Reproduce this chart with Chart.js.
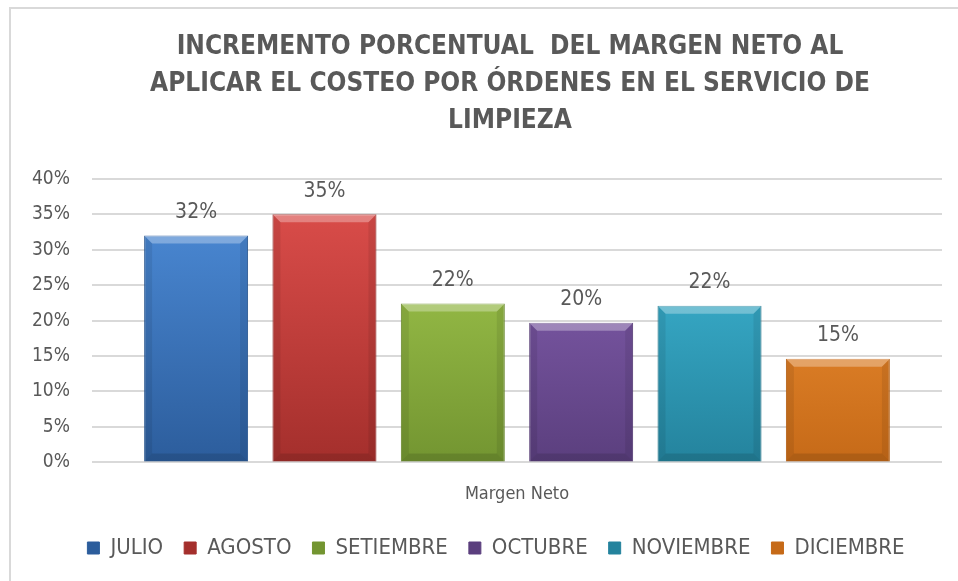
<!DOCTYPE html>
<html>
<head>
<meta charset="utf-8">
<script src="https://cdn.jsdelivr.net/npm/chart.js@4.4.1/dist/chart.umd.min.js"></script>
<style>
  html, body { margin: 0; padding: 0; background: #fff; overflow: hidden; }
  #wrap { position: relative; width: 958px; height: 581px; }
  #frame {
    position: absolute; left: 9px; top: 7px; width: 1000px; height: 1000px;
    border-left: 2px solid #d9d9d9; border-top: 2px solid #d9d9d9;
    pointer-events: none;
  }
</style>
</head>
<body>
<div id="wrap">
  <canvas id="margen"></canvas>
  <div id="frame"></div>
</div>
<script>
// Data
const categories = ["Margen Neto"];
const months = ["JULIO", "AGOSTO", "SETIEMBRE", "OCTUBRE", "NOVIEMBRE", "DICIEMBRE"];
const margen = [0.32, 0.35, 0.224, 0.197, 0.221, 0.146];
const yTicks = [0, 0.05, 0.1, 0.15, 0.2, 0.25, 0.3, 0.35, 0.4];
const titleLines = [
    "INCREMENTO PORCENTUAL  DEL MARGEN NETO AL",
    "APLICAR EL COSTEO POR ÓRDENES EN EL SERVICIO DE",
    "LIMPIEZA",
];

// Excel-ish fill colours: [light, mid, dark]
const palette = [
    ["#4f8fdc", "#3a77c4", "#2c5d9c"],
    ["#e0504d", "#cf3e3b", "#a42f2c"],
    ["#a9d052", "#92bb40", "#739531"],
    ["#8d66bb", "#7652a2", "#5b3f7e"],
    ["#43c1e0", "#31a8c8", "#24839d"],
    ["#fb9a3a", "#ef8624", "#c66a18"],
];

const txt = "#595959";
const font = '"Liberation Sans Narrow", "Arial Narrow", "DejaVu Sans Condensed", sans-serif';

const fillFor = (i) => (context) => {
    const { chart } = context;
    const area = chart.chartArea;
    if (!area) return palette[i][1];
    const g = chart.ctx.createLinearGradient(0, area.top, 0, area.bottom);
    g.addColorStop(0, palette[i][0]);
    g.addColorStop(1, palette[i][2]);
    return g;
};

// Bevel edges on each bar, Excel style
const bevel = {
    id: "bevel",
    afterDatasetsDraw(chart) {
        const ctx = chart.ctx;
        chart.data.datasets.forEach((ds, i) => {
            chart.getDatasetMeta(i).data.forEach((bar) => {
                const l = bar.x - bar.width / 2, r = bar.x + bar.width / 2;
                const t = bar.y, b = bar.base, e = 8;
                ctx.save();
                ctx.fillStyle = "rgba(255,255,255,0.30)";
                ctx.beginPath();
                ctx.moveTo(l, t); ctx.lineTo(r, t); ctx.lineTo(r - e, t + e); ctx.lineTo(l + e, t + e);
                ctx.closePath(); ctx.fill();
                ctx.fillStyle = "rgba(0,0,0,0.08)";
                ctx.beginPath();
                ctx.moveTo(l, t); ctx.lineTo(l + e, t + e); ctx.lineTo(l + e, b - e); ctx.lineTo(l, b);
                ctx.closePath(); ctx.fill();
                ctx.beginPath();
                ctx.moveTo(r, t); ctx.lineTo(r - e, t + e); ctx.lineTo(r - e, b - e); ctx.lineTo(r, b);
                ctx.closePath(); ctx.fill();
                ctx.fillStyle = "rgba(0,0,0,0.12)";
                ctx.beginPath();
                ctx.moveTo(l, b); ctx.lineTo(l + e, b - e); ctx.lineTo(r - e, b - e); ctx.lineTo(r, b);
                ctx.closePath(); ctx.fill();
                ctx.restore();
            });
        });
    },
};

// Percent labels above the bars
const barLabels = {
    id: "barLabels",
    afterDatasetsDraw(chart) {
        const ctx = chart.ctx;
        ctx.save();
        ctx.font = "21px " + font;
        ctx.fillStyle = txt;
        ctx.textAlign = "center";
        ctx.textBaseline = "middle";
        chart.data.datasets.forEach((ds, i) => {
            chart.getDatasetMeta(i).data.forEach((bar, j) => {
                ctx.fillText(Math.round(ds.data[j] * 100) + "%", bar.x, bar.y - 23);
            });
        });
        ctx.restore();
    },
};

// title and legend sit a bit right of centre in the reference
const shiftBoxes = {
    id: "shiftBoxes",
    afterLayout(chart) {
        chart.legend.left += 20;
        chart.legend.right += 20;
        chart.titleBlock.left += 34;
        chart.titleBlock.right += 34;
    },
};

const ctx = document.getElementById("margen").getContext("2d");
new Chart(ctx, {
    type: "bar",
    data: {
        labels: categories,
        datasets: months.map((m, i) => ({
            label: m,
            data: [margen[i]],
            backgroundColor: fillFor(i),
            borderColor: palette[i][2],
            borderWidth: 1,
        })),
    },
    options: {
        responsive: true,
        maintainAspectRatio: false,
        animation: false,
        layout: {
            padding: { left: 10, right: 16, top: 0, bottom: 12 },
        },
        datasets: {
            bar: { categoryPercentage: 0.906, barPercentage: 0.81 },
        },
        scales: {
            y: {
                min: 0,
                max: 0.4,
                afterBuildTicks: (axis) => {
                    axis.ticks = yTicks.map((v) => ({ value: v }));
                },
                ticks: {
                    callback: (v) => Math.round(v * 100) + "%",
                    color: txt,
                    font: { family: font, size: 19 },
                    padding: 22,
                },
                grid: { color: "#d9d9d9", lineWidth: 2, drawTicks: false },
                border: { display: false },
            },
            x: {
                afterFit: (axis) => {
                    axis.height -= 10;
                },
                ticks: {
                    color: txt,
                    font: { family: font, size: 18 },
                    padding: 21,
                },
                grid: { display: false, drawTicks: false },
                border: { display: false },
            },
        },
        plugins: {
            title: {
                display: true,
                text: titleLines,
                color: txt,
                font: { family: font, size: 26, weight: "bold", lineHeight: 1.42 },
                padding: { top: 29, bottom: 39 },
            },
            legend: {
                position: "bottom",
                labels: {
                    color: txt,
                    font: { family: font, size: 22 },
                    boxWidth: 12,
                    boxHeight: 12,
                    padding: 21,
                },
            },
            tooltip: { enabled: false },
        },
    },
    plugins: [bevel, barLabels, shiftBoxes],
});
</script>
</body>
</html>
